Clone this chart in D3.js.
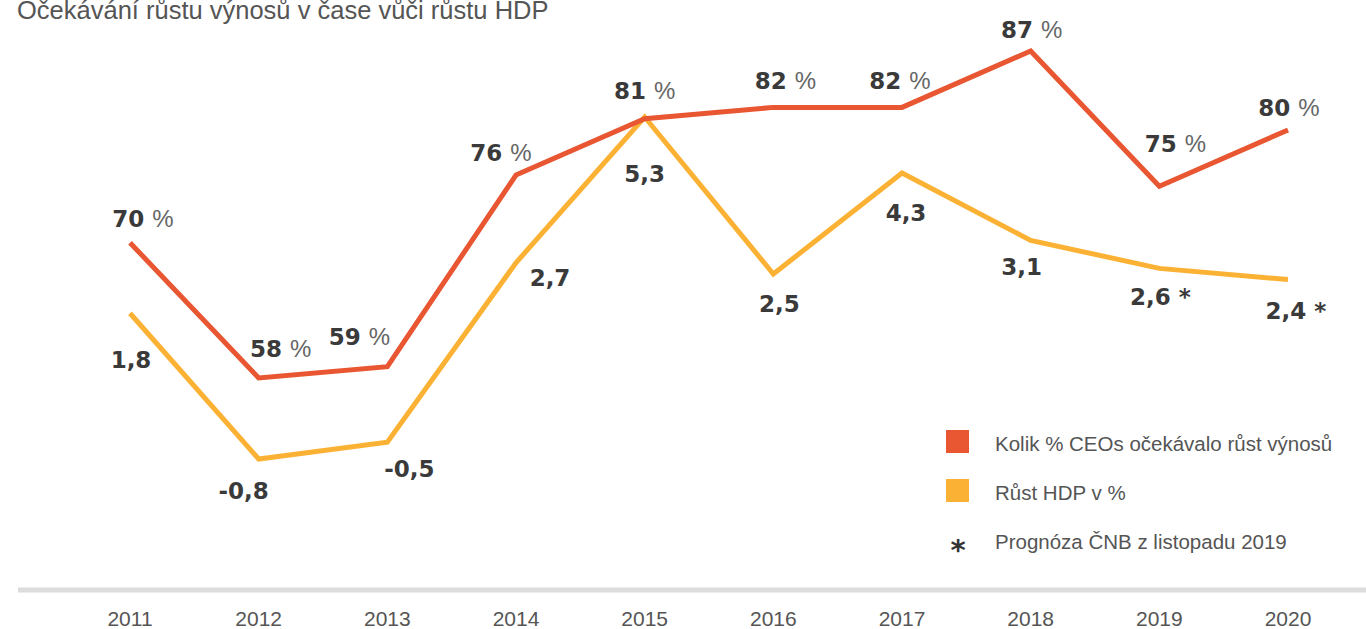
<!DOCTYPE html>
<html>
<head>
<meta charset="utf-8" />
<script src="https://cdn.jsdelivr.net/npm/d3@7"></script>
<style>
  body { margin: 0; background: #fff; }
</style>
</head>
<body>
<div id="chart"></div>
<script>
// chart data
var years = ["2011", "2012", "2013", "2014", "2015", "2016", "2017", "2018", "2019", "2020"];
var ceoValues = [70, 58, 59, 76, 81, 82, 82, 87, 75, 80];
var gdpValues = [1.8, -0.8, -0.5, 2.7, 5.3, 2.5, 4.3, 3.1, 2.6, 2.4];
var gdpForecast = [false, false, false, false, false, false, false, false, true, true];
var legendLabels = ["Kolik % CEOs očekávalo růst výnosů", "Růst HDP v %", "Prognóza ČNB z listopadu 2019"];
var title = "Očekávání růstu výnosů v čase vůči růstu HDP";

// label placement relative to the point (centre x, baseline y)
var ceoLabelOffsets = [[13, -16], [22, -21], [-28, -22], [-15, -14], [0, -20], [12, -18], [-2, -18], [1, -13], [16, -34], [1, -14]];
var gdpLabelOffsets = [[1, 55], [-15, 40], [22, 35], [34, 23], [0, 65], [6, 38], [4, 48], [-9, 35], [1, 37], [8, 39]];

var width = 1366, height = 629;
var red = "#E95632", yellow = "#FBB234";
var textFont = "'Liberation Sans', Arial, sans-serif";
var numFont = "'DejaVu Sans', Verdana, sans-serif";

var svg = d3.select("#chart").append("svg")
    .attr("width", width)
    .attr("height", height)
    .attr("font-family", textFont);

var x = d3.scalePoint().domain(years).range([130, 1288]);
var yCeo = d3.scaleLinear().domain([58, 87]).range([378, 51]);
var yGdp = d3.scaleLinear().domain([-0.8, 5.3]).range([459, 117]);

// title (cut at the top edge)
svg.append("text")
    .attr("x", 17)
    .attr("y", 19)
    .attr("font-size", 25.5)
    .attr("fill", "#555")
    .text(title);

// base line
svg.append("line")
    .attr("x1", 18).attr("x2", width)
    .attr("y1", 590).attr("y2", 590)
    .attr("stroke", "#dcdcdc")
    .attr("stroke-width", 5);

// year labels
svg.selectAll(".year")
    .data(years)
    .enter().append("text")
    .attr("x", function (d) { return x(d); })
    .attr("y", 626)
    .attr("text-anchor", "middle")
    .attr("font-size", 21)
    .attr("fill", "#555")
    .text(function (d) { return d; });

var lineCeo = d3.line()
    .x(function (d, i) { return x(years[i]); })
    .y(function (d) { return yCeo(d); });

var lineGdp = d3.line()
    .x(function (d, i) { return x(years[i]); })
    .y(function (d) { return yGdp(d); });

svg.append("path")
    .attr("d", lineGdp(gdpValues))
    .attr("fill", "none")
    .attr("stroke", yellow)
    .attr("stroke-width", 5)
    .attr("stroke-linejoin", "miter");

svg.append("path")
    .attr("d", lineCeo(ceoValues))
    .attr("fill", "none")
    .attr("stroke", red)
    .attr("stroke-width", 5)
    .attr("stroke-linejoin", "miter");

// value labels
var ceoLabels = svg.selectAll(".ceo-label")
    .data(ceoValues)
    .enter().append("text")
    .attr("x", function (d, i) { return x(years[i]) + ceoLabelOffsets[i][0]; })
    .attr("y", function (d, i) { return yCeo(d) + ceoLabelOffsets[i][1]; })
    .attr("text-anchor", "middle");
ceoLabels.append("tspan")
    .attr("font-family", numFont)
    .attr("font-size", 23)
    .attr("font-weight", "bold")
    .attr("fill", "#3a3a3a")
    .text(function (d) { return d + " "; });
ceoLabels.append("tspan")
    .attr("font-size", 24)
    .attr("fill", "#666")
    .text("%");

svg.selectAll(".gdp-label")
    .data(gdpValues)
    .enter().append("text")
    .attr("x", function (d, i) { return x(years[i]) + gdpLabelOffsets[i][0]; })
    .attr("y", function (d, i) { return yGdp(d) + gdpLabelOffsets[i][1]; })
    .attr("text-anchor", "middle")
    .attr("font-family", numFont)
    .attr("font-size", 23)
    .attr("font-weight", "bold")
    .attr("fill", "#3a3a3a")
    .text(function (d, i) {
        return d3.format(".1f")(d).replace(".", ",").replace("−", "-") + (gdpForecast[i] ? " *" : "");
    });

// legend
var legend = svg.append("g").attr("transform", "translate(946,430)");
[red, yellow].forEach(function (c, i) {
    legend.append("rect")
        .attr("x", 0).attr("y", i * 49)
        .attr("width", 23).attr("height", 23)
        .attr("fill", c);
});
legend.append("text")
    .attr("x", 12).attr("y", 130)
    .attr("text-anchor", "middle")
    .attr("font-family", numFont)
    .attr("font-size", 29)
    .attr("font-weight", "bold")
    .attr("fill", "#333")
    .text("*");
legend.selectAll(".legend-label")
    .data(legendLabels)
    .enter().append("text")
    .attr("x", 49)
    .attr("y", function (d, i) { return 21 + i * 49; })
    .attr("font-size", 20.5)
    .attr("fill", "#555")
    .text(function (d) { return d; });
</script>
</body>
</html>
